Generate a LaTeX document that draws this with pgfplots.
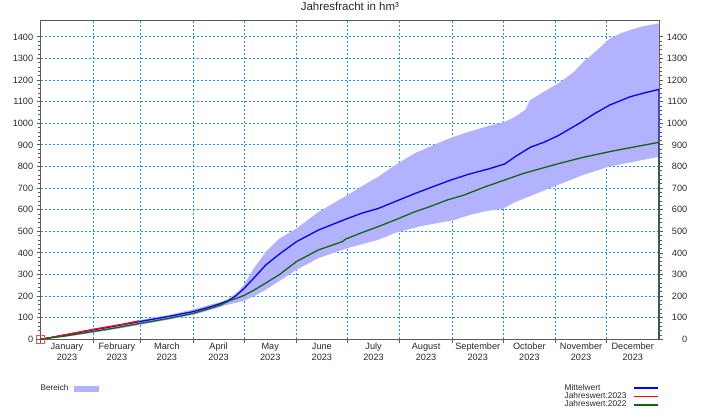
\documentclass[border=0pt]{standalone}
\usepackage{fontspec}
\setmainfont{Liberation Sans}
\usepackage{pgfplots}
\pgfplotsset{compat=1.18}
\usepgfplotslibrary{fillbetween}
\definecolor{bandcol}{RGB}{178,178,255}
\definecolor{gridblue}{RGB}{30,144,255}
\definecolor{mblue}{RGB}{0,0,255}
\definecolor{mred}{RGB}{255,0,0}
\definecolor{mgreen}{RGB}{20,100,20}
\definecolor{axgray}{RGB}{90,90,90}
\definecolor{txt}{RGB}{40,40,40}
\begin{document}
\begin{tikzpicture}
\pgfplotsset{
  common/.style={
    at={(0,0)}, anchor=south west, scale only axis,
    width=618.3bp, height=318.6bp,
    xmin=0, xmax=365, ymin=0, ymax=1475,
    ytick={0,100,...,1400}, minor y tick num=4,
    tick align=outside, major tick length=4bp, minor tick length=2.5bp,
    tick style={axgray, line width=0.8bp},
    /pgf/number format/assume math mode=true,
    /pgf/number format/1000 sep={},
    ticklabel style={font=\fontsize{9.2}{11}\selectfont, text=txt},
  }
}
\begin{axis}[common,
  xtick={0,31,59,90,120,151,181,212,243,273,304,334},
  xticklabels={},
  extra x ticks={15.5,45,74.5,105,135.5,166,196.5,227.5,258,288.5,319,349.5},
  extra x tick labels={{January\\2023},{February\\2023},{March\\2023},{April\\2023},{May\\2023},{June\\2023},{July\\2023},{August\\2023},{September\\2023},{October\\2023},{November\\2023},{December\\2023}},
  extra x tick style={grid=none, major tick length=0pt, xticklabel style={align=center, font=\fontsize{9.2}{11}\selectfont, text=txt}},
  xtick pos=lower, ytick pos=left,
  grid=major,
  major grid style={gridblue, dash pattern=on 2bp off 2bp, line width=0.8bp},
  axis line style={axgray, line width=1bp},
  title={Jahresfracht in hm³},
  title style={at={(0.5,1)}, anchor=base, yshift=4bp, font=\fontsize{11.5}{12}\selectfont, text=txt},
  legend plot pos=right,
  legend image code/.code={\draw[#1, line width=1.5bp] (0bp,0bp) -- (24bp,0bp);},
  legend style={at={(1,0)}, anchor=north east, yshift=-44.7bp, draw=none, fill=none,
    inner sep=0pt, outer sep=0pt, row sep=0pt, column sep=7bp,
    font=\fontsize{8.4}{8.4}\selectfont, text=txt,
    cells={anchor=west}, nodes={inner sep=0pt, text height=6bp, text depth=2.3bp}},
]
\addplot[name path=upper, draw=none, forget plot] coordinates {
(0,0) (15,24) (31,48) (45,67) (59,90) (75,112) (90,138) (100,160) (106,172) (110,185) (114,205) (117,225) (120,253) (126,330) (133,406) (141,467) (151,513) (164,590) (181,667) (192,720) (199,751) (208,800) (220,858) (232,900) (244,938) (253,961) (263,985) (274,1007) (280,1030) (286,1062) (289,1108) (300,1160) (307,1192) (315,1240) (321,1290) (324,1308) (330,1350) (336,1392) (342,1415) (348,1432) (356,1450) (365,1463)};
\addplot[name path=lower, draw=none, forget plot] coordinates {
(0,0) (15,12) (31,30) (45,48) (59,68) (75,90) (90,113) (100,135) (110,160) (115,168) (120,178) (126,200) (133,230) (151,322) (164,376) (181,422) (199,460) (210,495) (225,525) (244,552) (253,575) (262,592) (273,605) (280,635) (293,676) (305,714) (320,760) (335,799) (350,822) (365,845)};
\addplot[bandcol, draw=none, forget plot] fill between[of=upper and lower];
\addplot[mblue, line width=1.3bp] coordinates {
(0,0) (15,21) (31,44) (45,63) (59,83) (75,105) (90,128) (100,150) (106,165) (111,180) (115,200) (120,235) (126,285) (133,345) (141,395) (151,452) (164,506) (181,559) (190,585) (199,605) (210,640) (220,672) (230,702) (242,737) (253,765) (265,790) (274,812) (280,845) (289,889) (297,912) (305,941) (318,1000) (327,1045) (336,1085) (348,1123) (356,1140) (365,1157) (365,0)};
\addlegendentry{Mittelwert}
\addplot[mred, line width=1.3bp] coordinates {
(0,0) (10,14) (20,29) (31,46) (40,58) (50,72) (58,85)};
\addlegendentry{Jahreswert:2023}
\addplot[mgreen, line width=1.3bp] coordinates {
(0,0) (15,16) (31,36) (45,54) (59,74) (75,96) (90,120) (100,143) (106,158) (111,177) (115,188) (120,203) (126,228) (133,261) (141,300) (151,360) (164,414) (178,452) (180,464) (190,495) (199,521) (210,555) (220,588) (230,615) (240,645) (250,668) (262,705) (273,735) (285,768) (295,790) (305,812) (320,842) (336,869) (350,890) (365,912) (365,0)};
\addlegendentry{Jahreswert:2022}
\addplot[only marks, mark=square, mark size=4bp, mark options={mred!70, line width=0.8bp}, forget plot] coordinates {(0,0)};
\end{axis}
\begin{axis}[common,
  axis x line=none, axis y line*=right,
  y axis line style={draw=none},
  yticklabel style={text width=21bp, align=right, inner sep=0pt, xshift=3bp},
  legend plot pos=right,
  legend style={at={(0,0)}, anchor=north west, yshift=-45.5bp, draw=none, fill=none,
    inner sep=0pt, outer sep=0pt, column sep=6bp,
    font=\fontsize{8.2}{8.2}\selectfont, text=txt,
    nodes={inner sep=0pt, text height=6bp, text depth=2.3bp}},
]
\addplot[draw=none, forget plot] coordinates {(0,0) (365,0)};
\addlegendimage{legend image code/.code={\fill[bandcol] (0bp,-2.5bp) rectangle (24bp,2.5bp);}}
\addlegendentry{Bereich}
\end{axis}
\pgfresetboundingbox
\path[use as bounding box] (-40.7bp,-74.7bp) rectangle (666.3bp,339.3bp);
\end{tikzpicture}
\end{document}
